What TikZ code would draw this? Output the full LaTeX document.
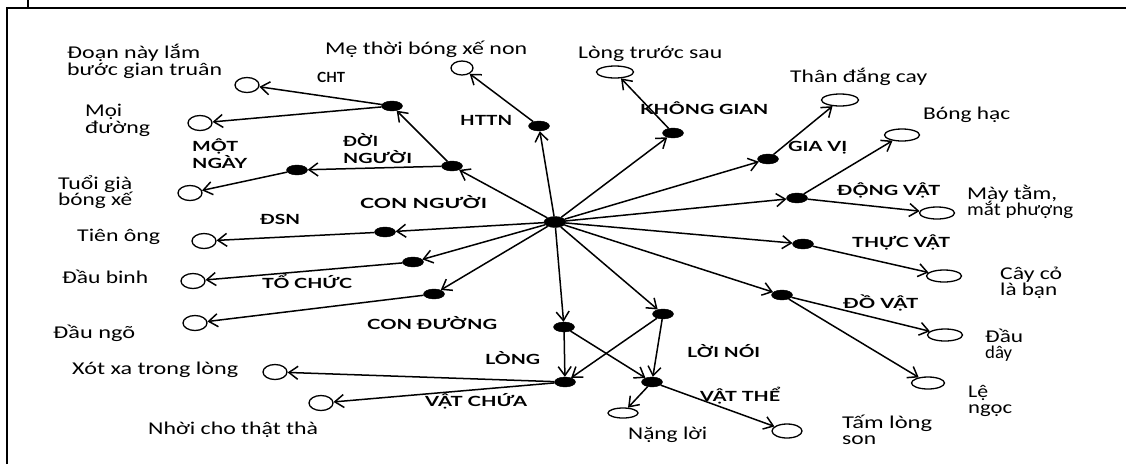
\documentclass[tikz,border=0pt]{standalone}
\usepackage{fontspec}
\setmainfont{Carlito}
\newfontfamily\capfont{Lato}
\usepackage{graphicx}
\usetikzlibrary{arrows.meta,shapes.geometric}
\newcommand{\sw}[2]{\resizebox{#1pt}{\height}{#2}}
\begin{document}
\begin{tikzpicture}[x=1pt,y=-1pt,
  dot/.style={draw,fill=black,ellipse,minimum width=21pt,minimum height=10pt,inner sep=0pt},
  ring/.style={draw,line width=1.3pt,ellipse,minimum width=24pt,minimum height=15pt,inner sep=0pt},
  oval/.style={ring,minimum width=35pt,minimum height=12pt},
  arr/.style={line width=1.5pt,-{Straight Barb[length=9pt,width=13pt]}},
  lab/.style={anchor=base west,inner sep=0pt,font=\fontsize{18}{20}\selectfont},
  upl/.style={anchor=base west,inner sep=0pt,font=\fontsize{14}{16}\capfont\bfseries}]
\useasboundingbox (0,0) rectangle (1126,464);
% frame
\draw[line width=2.5pt] (7,464) -- (7,8) -- (1126,8);
\draw[line width=2pt] (28,0) -- (28,8);
% dots
\node[dot,minimum width=22pt,minimum height=11pt] (hub) at (555,222) {};
\node[dot] (dCHT) at (392,106) {};
\node[dot] (dDOI) at (452,166) {};
\node[dot] (dMOT) at (297,170) {};
\node[dot] (dDSN) at (385,232) {};
\node[dot] (dTO) at (413,262) {};
\node[dot] (dCD) at (434,294) {};
\node[dot] (dHTTN) at (539,126) {};
\node[dot] (dKG) at (673,133) {};
\node[dot] (dGIA) at (768,159) {};
\node[dot] (dDONG) at (797,198) {};
\node[dot] (dTHUC) at (803,244) {};
\node[dot] (dDO) at (782,295) {};
\node[dot] (dLONG) at (564,327) {};
\node[dot] (dLOI) at (663,314) {};
\node[dot] (dCHUA) at (565,382) {};
\node[dot] (dTHE) at (652,382) {};
% open circles / ovals
\node[ring] (oDoan) at (247,85) {};
\node[ring] (oMoi) at (200,123) {};
\node[ring] (oTuoi) at (190,193) {};
\node[ring] (oTien) at (204,241) {};
\node[ring] (oDauBinh) at (193,281) {};
\node[ring] (oDauNgo) at (195,323) {};
\node[ring] (oXot) at (275,372) {};
\node[ring] (oNhoi) at (321,403) {};
\node[ring,minimum width=22pt,minimum height=14pt] (oMe) at (462,68) {};
\node[oval,minimum width=37pt] (oLong) at (615,72) {};
\node[oval,minimum width=37pt] (oThan) at (840,100) {};
\node[oval] (oBong) at (902,135) {};
\node[oval] (oMay) at (937,213) {};
\node[oval] (oCay) at (944,276) {};
\node[oval] (oDauDay) at (945,335) {};
\node[oval,minimum width=33pt] (oLe) at (928,383) {};
\node[ring,minimum width=30pt,minimum height=14pt] (oTam) at (787,431) {};
\node[ring,minimum width=30pt,minimum height=10pt] (oNang) at (623,413) {};
% connectors
\draw[arr] (hub) -- (dDOI);
\draw[arr] (dDOI) -- (dCHT);
\draw[arr] (dCHT) -- (oDoan);
\draw[arr] (dCHT) -- (oMoi);
\draw[arr] (dDOI) -- (dMOT);
\draw[arr] (dMOT) -- (oTuoi);
\draw[arr] (hub) -- (dDSN);
\draw[arr] (dDSN) -- (oTien);
\draw[arr] (hub) -- (dTO);
\draw[arr] (dTO) -- (oDauBinh);
\draw[arr] (hub) -- (dCD);
\draw[arr] (dCD) -- (oDauNgo);
\draw[arr] (hub) -- (dHTTN);
\draw[arr] (dHTTN) -- (oMe);
\draw[arr] (hub) -- (dKG);
\draw[arr] (dKG) -- (oLong);
\draw[arr] (hub) -- (dGIA);
\draw[arr] (dGIA) -- (oThan);
\draw[arr] (hub) -- (dDONG);
\draw[arr] (dDONG) -- (oBong);
\draw[arr] (dDONG) -- (oMay);
\draw[arr] (hub) -- (dTHUC);
\draw[arr] (dTHUC) -- (oCay);
\draw[arr] (hub) -- (dDO);
\draw[arr] (dDO) -- (oDauDay);
\draw[arr] (dDO) -- (oLe);
\draw[arr] (hub) -- (dLONG);
\draw[arr] (hub) -- (dLOI);
\draw[arr] (dLONG) -- (dCHUA);
\draw[arr] (dLOI) -- (dCHUA);
\draw[arr] (dLONG) -- (dTHE);
\draw[arr] (dLOI) -- (dTHE);
\draw[arr] (dCHUA) -- (oXot);
\draw[arr] (dCHUA) -- (oNhoi);
\draw[arr] (dTHE) -- (oNang);
\draw[arr] (dTHE) -- (oTam);
% lowercase labels
\node[lab] (tDoanA) at (67,58) {\sw{133}{Đoạn này lắm}};
\node[lab] (tDoanB) at (67,75) {\sw{155}{bước gian truân}};
\node[lab] (tMe) at (325,54) {\sw{202}{Mẹ thời bóng xế non}};
\node[lab] (tLong) at (578,58) {\sw{144}{Lòng trước sau}};
\node[lab] (tThan) at (790,82) {\sw{137}{Thân đắng cay}};
\node[lab] (tBong) at (923,119) {\sw{87}{Bóng hạc}};
\node[lab] (tMayA) at (967,199) {\sw{90}{Mày tằm,}};
\node[lab] (tMayB) at (967,215) {\sw{106}{mắt phượng}};
\node[lab] (tCayA) at (1000,279) {\sw{62}{Cây cỏ}};
\node[lab] (tCayB) at (1000,295) {\sw{57}{là bạn}};
\node[lab] (tDauA) at (985,342) {\sw{38}{Đầu}};
\node[lab] (tDauB) at (985,358) {\sw{27}{dây}};
\node[lab] (tLeA) at (968,397) {\sw{20}{Lệ}};
\node[lab] (tLeB) at (968,413) {\sw{44}{ngọc}};
\node[lab] (tTamA) at (842,428) {\sw{90}{Tấm lòng}};
\node[lab] (tTamB) at (842,444) {\sw{34}{son}};
\node[lab] (tNang) at (628,439) {\sw{79}{Nặng lời}};
\node[lab] (tNhoi) at (148,434) {\sw{170}{Nhời cho thật thà}};
\node[lab] (tXot) at (72,374) {\sw{166}{Xót xa trong lòng}};
\node[lab] (tDauNgo) at (53,338) {\sw{82}{Đầu ngõ}};
\node[lab] (tDauBinh) at (62,283) {\sw{86}{Đầu binh}};
\node[lab] (tTien) at (77,241) {\sw{83}{Tiên ông}};
\node[lab] (tTuoiA) at (58,189) {\sw{74}{Tuổi già}};
\node[lab] (tTuoiB) at (58,205) {\sw{74}{bóng xế}};
\node[lab] (tMoiA) at (85,116) {\sw{37}{Mọi}};
\node[lab] (tMoiB) at (85,133) {\sw{65}{đường}};
% uppercase labels
\node[upl] (tCHT) at (317,82) {\sw{28}{CHT}};
\node[upl] (tMOT) at (192,151) {\sw{46}{MỘT}};
\node[upl] (tNGAY) at (192,168) {\sw{55}{NGÀY}};
\node[upl] (tDOI) at (343,146) {\sw{35}{ĐỜI}};
\node[upl] (tNGUOI) at (343,163) {\sw{69}{NGƯỜI}};
\node[upl] (tHTTN) at (460,125) {\sw{52}{HTTN}};
\node[upl] (tKG) at (640,114) {\sw{128}{KHÔNG GIAN}};
\node[upl] (tGIA) at (788,151) {\sw{59}{GIA VỊ}};
\node[upl] (tDONG) at (837,195) {\sw{103}{ĐỘNG VẬT}};
\node[upl] (tTHUC) at (852,247) {\sw{98}{THỰC VẬT}};
\node[upl] (tDO) at (843,308) {\sw{75}{ĐỒ VẬT}};
\node[upl] (tCONNG) at (360,208) {\sw{127}{CON NGƯỜI}};
\node[upl] (tDSN) at (260,224) {\sw{40}{ĐSN}};
\node[upl] (tTO) at (262,288) {\sw{90}{TỔ CHỨC}};
\node[upl] (tCD) at (367,329) {\sw{130}{CON ĐƯỜNG}};
\node[upl] (tLONG) at (485,364) {\sw{55}{LÒNG}};
\node[upl] (tLOI) at (687,357) {\sw{73}{LỜI NÓI}};
\node[upl] (tCHUA) at (425,406) {\sw{102}{VẬT CHỨA}};
\node[upl] (tTHE) at (700,401) {\sw{80}{VẬT THỂ}};
\end{tikzpicture}
\end{document}
